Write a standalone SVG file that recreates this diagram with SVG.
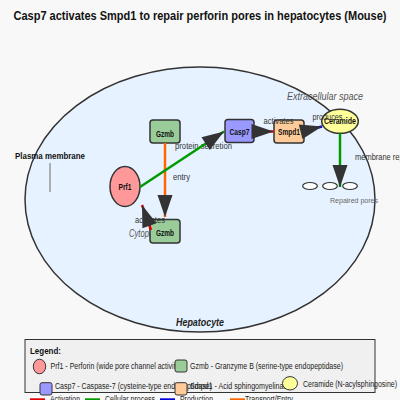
<svg xmlns="http://www.w3.org/2000/svg" width="400" height="400" viewBox="0 0 400 400">
<style>
text{font-family:"Liberation Sans Narrow","Liberation Sans",Arial,sans-serif}
.title{font-size:13px;font-weight:bold;fill:#111}
.node rect,.node ellipse{stroke:#333;stroke-width:1.5}
.nl{font-size:8.5px;font-weight:bold;fill:#111;text-anchor:middle}
.el{font-size:8.5px;fill:#333}
.comp{font-size:10px;font-style:italic;fill:#555}
.leg{font-size:8.5px;fill:#222}
.conn line{stroke-width:2.5;fill:none}
.act{stroke:#e00000}
.cel{stroke:#009900}
.pro{stroke:#0000dd}
.tra{stroke:#ff6600}
.lg rect,.lg ellipse{stroke:#333;stroke-width:1}
</style>
<defs>
<marker id="arr" markerUnits="userSpaceOnUse" markerWidth="24" markerHeight="16" refX="22" refY="7.5" orient="auto" overflow="visible">
<path d="M0,0 L22,7.5 L0,15 z" fill="#333"/>
</marker>
</defs>
<rect x="0" y="0" width="400" height="400" fill="#f8f8f8"/>
<text class="title" x="200" y="20" text-anchor="middle" textLength="373" lengthAdjust="spacingAndGlyphs">Casp7 activates Smpd1 to repair perforin pores in hepatocytes (Mouse)</text>

<g id="cell">
<ellipse cx="200" cy="199.5" rx="175" ry="132.5" fill="#e6f2ff" stroke="#333" stroke-width="1.5"/>
<text class="comp" x="287" y="99.5" textLength="76" lengthAdjust="spacingAndGlyphs">Extracellular space</text>
<text x="15" y="159" font-size="9" font-weight="bold" fill="#111" textLength="70" lengthAdjust="spacingAndGlyphs">Plasma membrane</text>
<line x1="50" y1="163" x2="50" y2="192" stroke="#999" stroke-width="1.5"/>
<text class="comp" x="129" y="237" textLength="36" lengthAdjust="spacingAndGlyphs">Cytoplasm</text>
<text x="176" y="326" font-size="10" font-weight="bold" font-style="italic" fill="#222" textLength="48" lengthAdjust="spacingAndGlyphs">Hepatocyte</text>
<text x="330" y="203" font-size="8" fill="#666" textLength="48" lengthAdjust="spacingAndGlyphs">Repaired pores</text>
</g>

<g id="pores" fill="#fff" stroke="#333" stroke-width="1.2">
<ellipse cx="310" cy="186" rx="7.3" ry="3.5"/>
<ellipse cx="330" cy="186" rx="7.3" ry="3.5"/>
<ellipse cx="350" cy="186" rx="7.3" ry="3.5"/>
</g>

<g id="node-gzmb-top" class="node">
<rect x="150" y="120" width="30" height="23" rx="3" fill="#99cc99"/>
<text class="nl" x="165" y="137" textLength="18" lengthAdjust="spacingAndGlyphs">Gzmb</text>
</g>
<g id="node-prf1" class="node">
<ellipse cx="125" cy="186.5" rx="15" ry="20" fill="#ff9999"/>
<text class="nl" x="125" y="190" textLength="13" lengthAdjust="spacingAndGlyphs">Prf1</text>
</g>
<g id="node-gzmb-bottom" class="node">
<rect x="150" y="219.5" width="30" height="23.5" rx="3" fill="#99cc99"/>
<text class="nl" x="165" y="236" textLength="18" lengthAdjust="spacingAndGlyphs">Gzmb</text>
</g>
<g id="node-casp7" class="node">
<rect x="225" y="119.5" width="29" height="23" rx="3" fill="#9999ff"/>
<text class="nl" x="239.5" y="135" textLength="20" lengthAdjust="spacingAndGlyphs">Casp7</text>
</g>
<g id="node-smpd1" class="node">
<rect x="274" y="120" width="30" height="23" rx="3" fill="#ffcc99"/>
<text class="nl" x="289" y="135" textLength="22" lengthAdjust="spacingAndGlyphs">Smpd1</text>
</g>
<g id="node-ceramide" class="node">
<ellipse cx="340" cy="121.3" rx="18.3" ry="12" fill="#ffff99"/>
<text class="nl" x="340" y="124" textLength="32" lengthAdjust="spacingAndGlyphs">Ceramide</text>
</g>

<g id="connectors" class="conn">
<text class="el" x="175" y="149" textLength="57" lengthAdjust="spacingAndGlyphs">protein secretion</text>
<text class="el" x="173" y="180" textLength="17" lengthAdjust="spacingAndGlyphs">entry</text>
<text class="el" x="135" y="222.5" textLength="30" lengthAdjust="spacingAndGlyphs">activates</text>
<text class="el" x="263.5" y="123.5" textLength="30" lengthAdjust="spacingAndGlyphs">activates</text>
<text class="el" x="312.5" y="119.5" textLength="30" lengthAdjust="spacingAndGlyphs">produces</text>
<text class="el" x="355" y="160" textLength="57" lengthAdjust="spacingAndGlyphs">membrane repair</text>
<line class="tra" x1="165" y1="143" x2="165" y2="217" marker-end="url(#arr)"/>
<line class="cel" x1="140" y1="187" x2="224" y2="131.5" marker-end="url(#arr)"/>
<line class="act" x1="151" y1="230" x2="142" y2="205" marker-end="url(#arr)"/>
<line class="act" x1="254" y1="131.5" x2="273.5" y2="131.5" marker-end="url(#arr)"/>
<line class="pro" x1="304" y1="131" x2="322" y2="126.5" marker-end="url(#arr)"/>
<line class="cel" x1="340" y1="133.3" x2="340" y2="187" marker-end="url(#arr)"/>
</g>

<g id="legend" class="lg">
<rect x="25" y="339.5" width="350" height="53" fill="#f0f0f0" stroke="#999" stroke-width="1.5"/>
<text x="30" y="353.5" font-size="9.5" font-weight="bold" fill="#111" textLength="31" lengthAdjust="spacingAndGlyphs">Legend:</text>
<ellipse cx="39.5" cy="366.5" rx="6.2" ry="7.3" fill="#ff9999"/>
<text class="leg" x="50.5" y="368.5" textLength="131" lengthAdjust="spacingAndGlyphs">Prf1 - Perforin (wide pore channel activity)</text>
<rect x="175" y="360" width="12" height="12" rx="2" fill="#99cc99"/>
<text class="leg" x="190" y="368.5" textLength="153" lengthAdjust="spacingAndGlyphs">Gzmb - Granzyme B (serine-type endopeptidase)</text>
<rect x="40" y="382.7" width="12" height="12.3" rx="2" fill="#9999ff"/>
<text class="leg" x="55" y="388.5" textLength="157" lengthAdjust="spacingAndGlyphs">Casp7 - Caspase-7 (cysteine-type endopeptidase)</text>
<rect x="175" y="382.7" width="12" height="12.3" rx="2" fill="#ffcc99"/>
<text class="leg" x="190" y="388.5" textLength="101" lengthAdjust="spacingAndGlyphs">Smpd1 - Acid sphingomyelinase</text>
<ellipse cx="290" cy="383.3" rx="7.5" ry="6.7" fill="#ffff99"/>
<text class="leg" x="303" y="386.7" textLength="94" lengthAdjust="spacingAndGlyphs">Ceramide (N-acylsphingosine)</text>
<line x1="30" y1="399.3" x2="45" y2="399.3" stroke="#e00000" stroke-width="2"/>
<text class="leg" x="50" y="402" textLength="30" lengthAdjust="spacingAndGlyphs">Activation</text>
<line x1="85" y1="399.3" x2="100" y2="399.3" stroke="#009900" stroke-width="2"/>
<text class="leg" x="105" y="402" textLength="50" lengthAdjust="spacingAndGlyphs">Cellular process</text>
<line x1="160" y1="399.3" x2="175" y2="399.3" stroke="#0000dd" stroke-width="2"/>
<text class="leg" x="180" y="402" textLength="33" lengthAdjust="spacingAndGlyphs">Production</text>
<line x1="230" y1="399.3" x2="245" y2="399.3" stroke="#ff6600" stroke-width="2"/>
<text class="leg" x="245" y="402" textLength="48" lengthAdjust="spacingAndGlyphs">Transport/Entry</text>
</g>
</svg>
